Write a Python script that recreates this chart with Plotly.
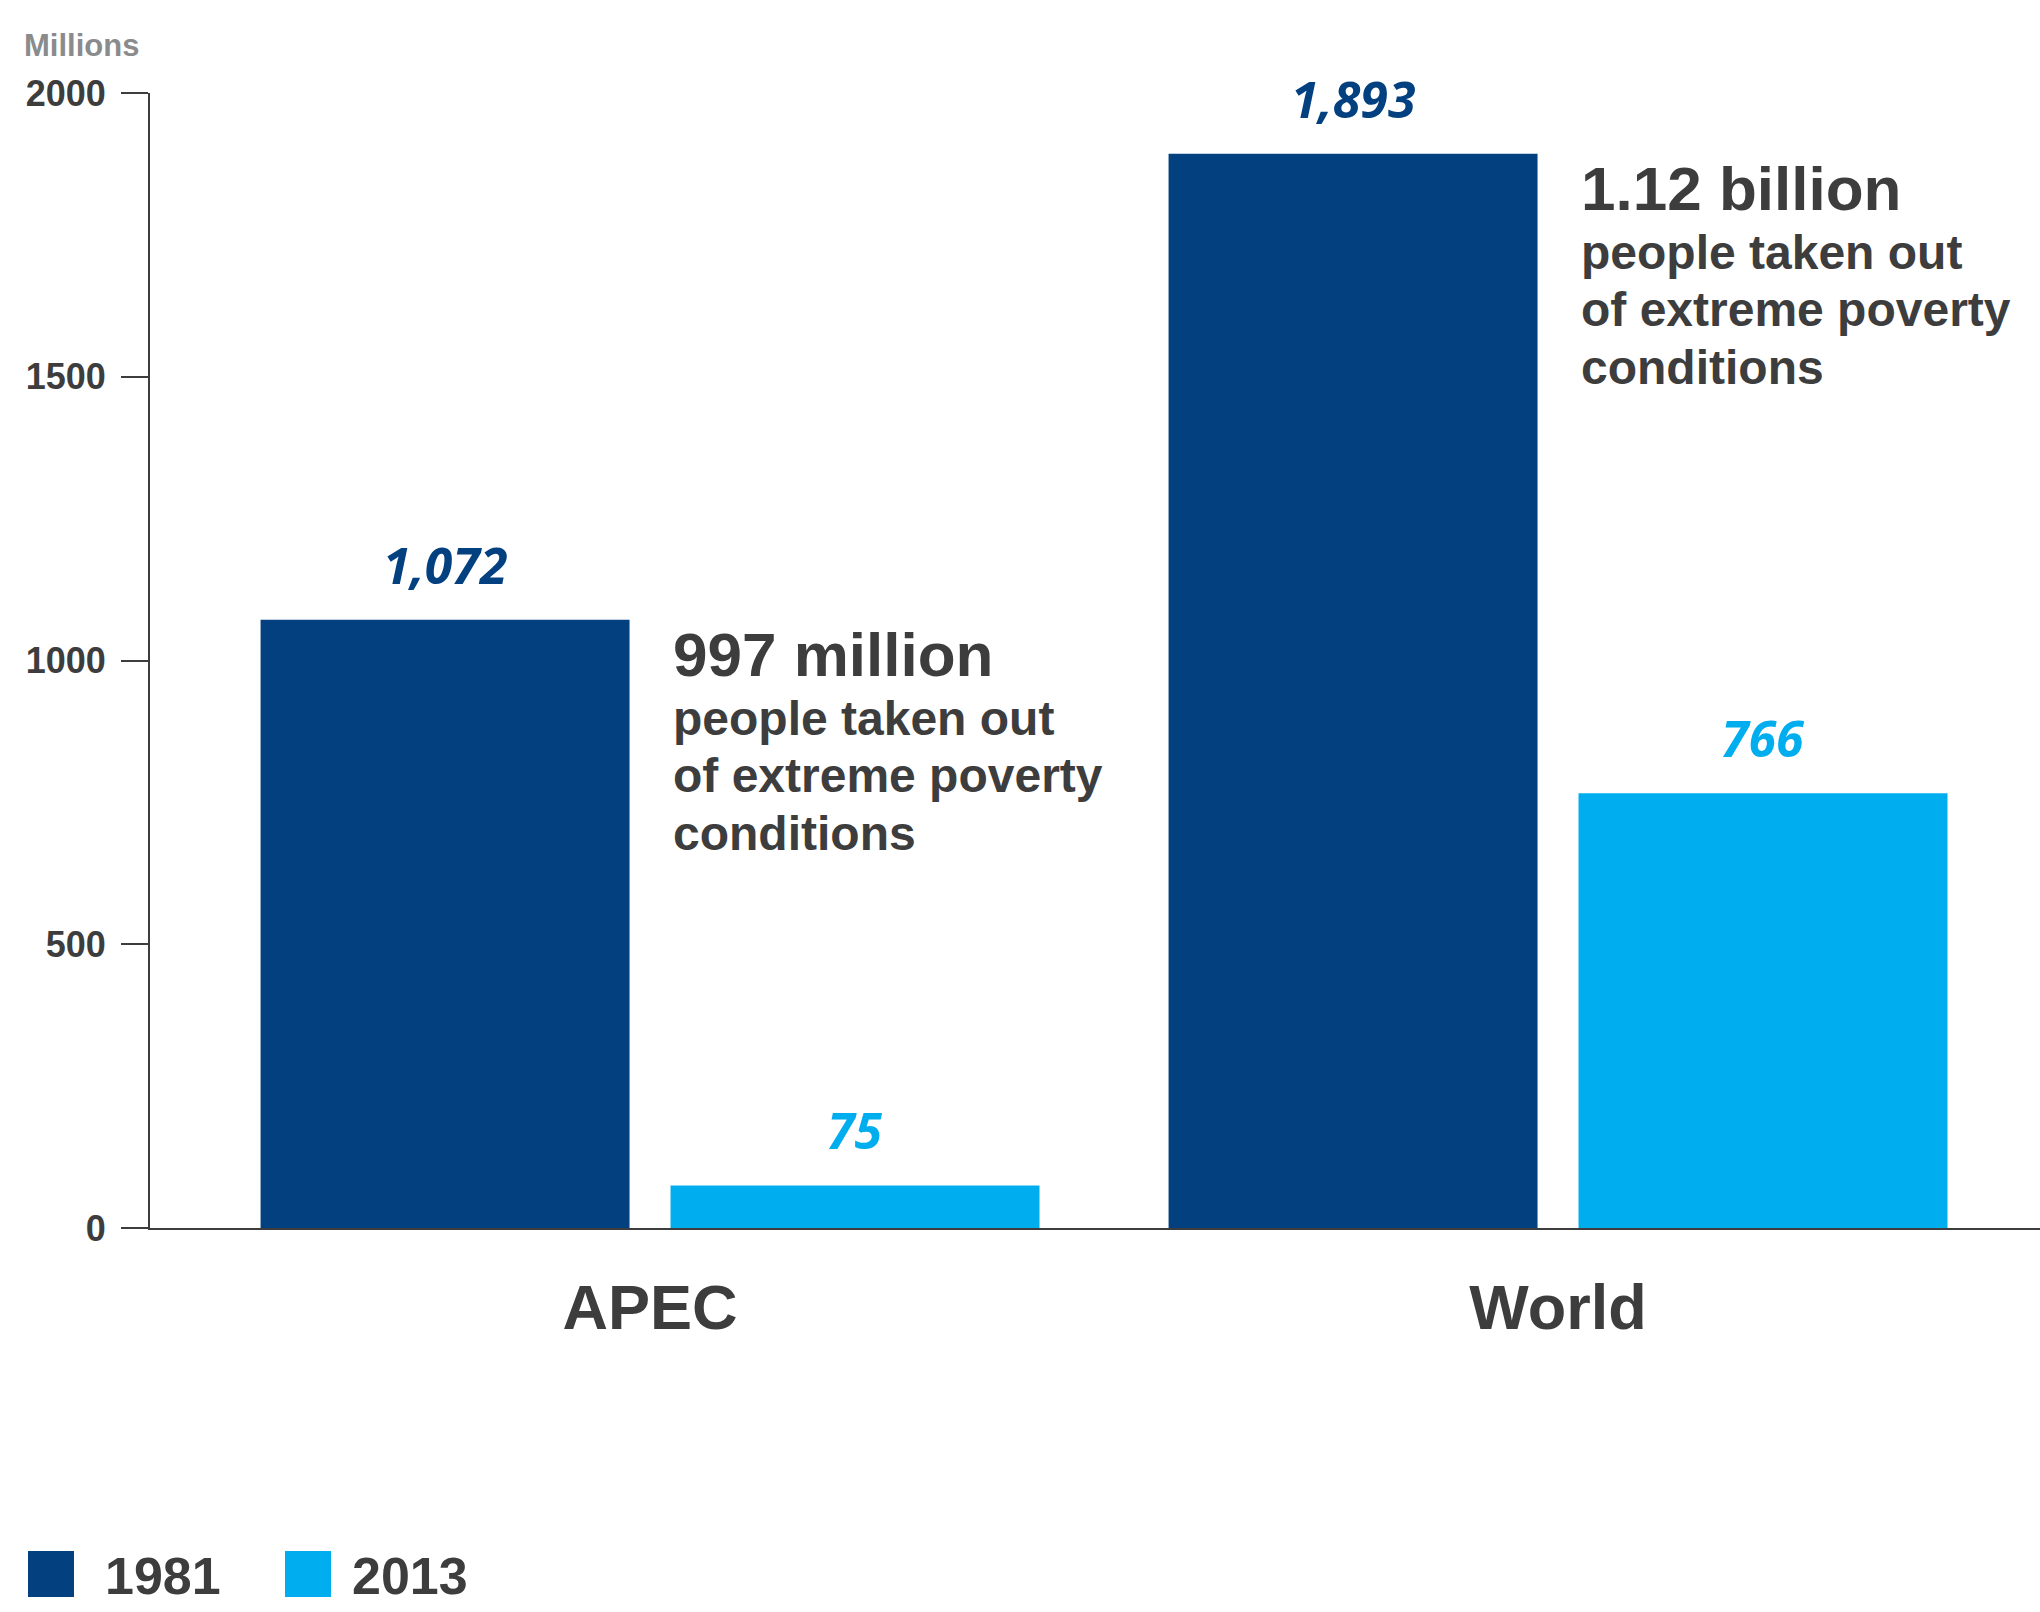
import plotly.graph_objects as go

# ---- data ----
categories = ["APEC", "World"]
series_names = ["1981", "2013"]
values_1981 = [1072, 1893]
values_2013 = [75, 766]
value_labels_1981 = ["1,072", "1,893"]
value_labels_2013 = ["75", "766"]
headlines = ["997 million", "1.12 billion"]
body_lines = ["people taken out", "of extreme poverty", "conditions"]
y_ticks = [0, 500, 1000, 1500, 2000]
y_unit_label = "Millions"

# ---- style ----
W, H = 2040, 1612
ML, MR, MT, MB = 150, 0, 93, 384
DARK = "#024080"
LIGHT = "#00AEEF"
TEXT = "#3d3d3d"
GRAY = "#8a8b8d"
FONT = "Liberation Sans, Arial, sans-serif"
VAL_FONT = "Open Sans, sans-serif"
BARGAP = 0.097
BARGROUPGAP = 0.1
colors = [DARK, LIGHT]
series_values = [values_1981, values_2013]
series_labels = [value_labels_1981, value_labels_2013]

PW = W - ML - MR
PH = H - MT - MB


def px2x(px):
    return (px - ML) / PW


def py2y(py):
    return (H - MB - py) / PH


fig = go.Figure()
for name, vals, col in zip(series_names, series_values, colors):
    fig.add_trace(go.Bar(
        x=categories, y=vals, name=name, marker=dict(color=col, line=dict(width=0)),
        showlegend=False, hoverinfo="x+y+name",
    ))

annotations = []
n_series = len(series_names)
slot = (1 - BARGAP) / n_series
# value labels above bars
for j, (vals, labs, col) in enumerate(zip(series_values, series_labels, colors)):
    for i, (v, lab) in enumerate(zip(vals, labs)):
        annotations.append(dict(
            x=i + (j - (n_series - 1) / 2) * slot, y=v, xref="x", yref="y",
            text=lab, showarrow=False, xanchor="center", yanchor="bottom", yshift=19,
            font=dict(family=VAL_FONT, size=50, color=col, weight="bold", style="italic"),
        ))

# callouts anchored to the top of the 1981 bar, left-aligned with the 2013 bar
for i, head in enumerate(headlines):
    xleft = i + (1 - (n_series - 1) / 2) * slot - slot * (1 - BARGROUPGAP) / 2
    annotations.append(dict(
        x=xleft, y=values_1981[i], xref="x", yref="y", text=head, showarrow=False,
        xanchor="left", yanchor="top", xshift=0, yshift=2,
        font=dict(family=FONT, size=62, color=TEXT, weight="bold"),
    ))
    for k, line in enumerate(body_lines):
        annotations.append(dict(
            x=xleft, y=values_1981[i], xref="x", yref="y", text=line, showarrow=False,
            xanchor="left", yanchor="top", xshift=0, yshift=-(70 + 57.5 * k),
            font=dict(family=FONT, size=48, color=TEXT, weight="bold"),
        ))

# unit label
annotations.append(dict(
    x=px2x(22), y=py2y(45), xref="paper", yref="paper", text=y_unit_label,
    showarrow=False, xanchor="left", yanchor="middle",
    font=dict(family=FONT, size=31, color=GRAY, weight="bold"),
))

# custom legend (large square swatches)
shapes = []
LEG_X0, LEG_STEP, SQ, LEG_YC = 28, 257, 46, 1574
legend_text_x = [103, 350]
for k, (name, col) in enumerate(zip(series_names, colors)):
    x0 = LEG_X0 + k * LEG_STEP
    shapes.append(dict(
        type="rect", xref="paper", yref="paper",
        x0=px2x(x0), x1=px2x(x0 + SQ), y0=py2y(LEG_YC + SQ / 2), y1=py2y(LEG_YC - SQ / 2),
        fillcolor=col, line=dict(width=0),
    ))
    annotations.append(dict(
        x=px2x(legend_text_x[k]), y=py2y(LEG_YC + 2), xref="paper", yref="paper", text=name,
        showarrow=False, xanchor="left", yanchor="middle",
        font=dict(family=FONT, size=52, color=TEXT, weight="bold"),
    ))

fig.update_layout(
    width=W, height=H, autosize=False,
    margin=dict(l=ML, r=MR, t=MT, b=MB, pad=0),
    paper_bgcolor="white", plot_bgcolor="white",
    barmode="group", bargap=BARGAP, bargroupgap=BARGROUPGAP,
    showlegend=False,
    annotations=annotations, shapes=shapes,
    xaxis=dict(
        type="category", range=[-0.5507, 1.5308], showgrid=False, zeroline=False,
        showline=True, linecolor=TEXT, linewidth=2, ticks="",
        tickfont=dict(family=FONT, size=63, color=TEXT, weight="bold"),
        ticklabelstandoff=23, fixedrange=True,
    ),
    yaxis=dict(
        range=[0, 2000], tickvals=y_ticks, showgrid=False, zeroline=False,
        showline=True, linecolor=TEXT, linewidth=2, ticks="outside", ticklen=27,
        tickwidth=2, tickcolor=TEXT,
        tickfont=dict(family=FONT, size=36, color=TEXT, weight="bold"),
        ticklabelstandoff=8, fixedrange=True,
    ),
)

fig.write_html("out.html")
